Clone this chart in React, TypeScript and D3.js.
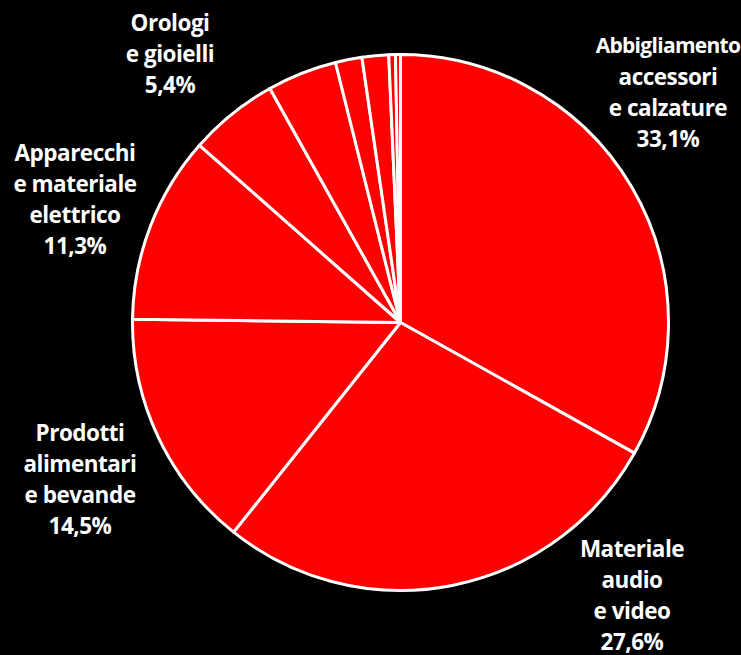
import React, { useEffect } from "react";
import * as d3 from "d3";

const categories = [
  "Abbigliamento accessori e calzature",
  "Materiale audio e video",
  "Prodotti alimentari e bevande",
  "Apparecchi e materiale elettrico",
  "Orologi e gioielli",
  "Altro 1",
  "Altro 2",
  "Altro 3",
  "Altro 4",
  "Altro 5",
];
const values = [33.1, 27.6, 14.5, 11.3, 5.4, 4.2, 1.6, 1.6, 0.4, 0.3];
const labelLines = [
  ["Abbigliamento", "accessori", "e calzature", "33,1%"],
  ["Materiale", "audio", "e video", "27,6%"],
  ["Prodotti", "alimentari", "e bevande", "14,5%"],
  ["Apparecchi", "e materiale", "elettrico", "11,3%"],
  ["Orologi", "e gioielli", "5,4%"],
];

// label layout (x centre, first line centre y)
const labelLayout = [
  { x: 668, y: 45 },
  { x: 632, y: 548 },
  { x: 80, y: 432 },
  { x: 75, y: 152 },
  { x: 170, y: 22 },
];

const W = 741;
const H = 655;
const cx = 400.5;
const cy = 322.5;
const R = 268;

export default function App() {
  useEffect(() => {
    document.body.style.margin = "0";
    document.body.style.background = "#000";
  }, []);
  const pie = d3
    .pie<number>()
    .sort(null)
    .value((d) => d)
    .startAngle(0)
    .endAngle(2 * Math.PI);
  const arcs = pie(values);
  const arc = d3.arc<d3.PieArcDatum<number>>().innerRadius(0).outerRadius(R);
  const lineH = 31;
  return (
    <svg width={W} height={H} style={{ display: "block", background: "#000" }}>
      <rect width={W} height={H} fill="#000" />
      <g transform={`translate(${cx},${cy})`}>
        {arcs.map((a, i) => (
          <path
            key={categories[i]}
            d={arc(a) || ""}
            fill="#ff0000"
            stroke="#ffffff"
            strokeWidth={3}
            strokeLinejoin="round"
          />
        ))}
      </g>
      {labelLines.map((lines, i) => (
        <text
          key={i}
          textAnchor="middle"
          fill="#ffffff"
          fontFamily="'Open Sans', Lato, sans-serif"
          fontWeight="bold"
          fontSize={22.5}
          letterSpacing={-0.5}
        >
          {lines.map((t, j) => {
            const narrow = t.length > 12;
            return (
              <tspan
                key={j}
                x={labelLayout[i].x}
                y={labelLayout[i].y + j * lineH}
                dominantBaseline="central"
                fontSize={narrow ? 21 : undefined}
                letterSpacing={narrow ? -0.7 : undefined}
              >
                {t}
              </tspan>
            );
          })}
        </text>
      ))}
    </svg>
  );
}
